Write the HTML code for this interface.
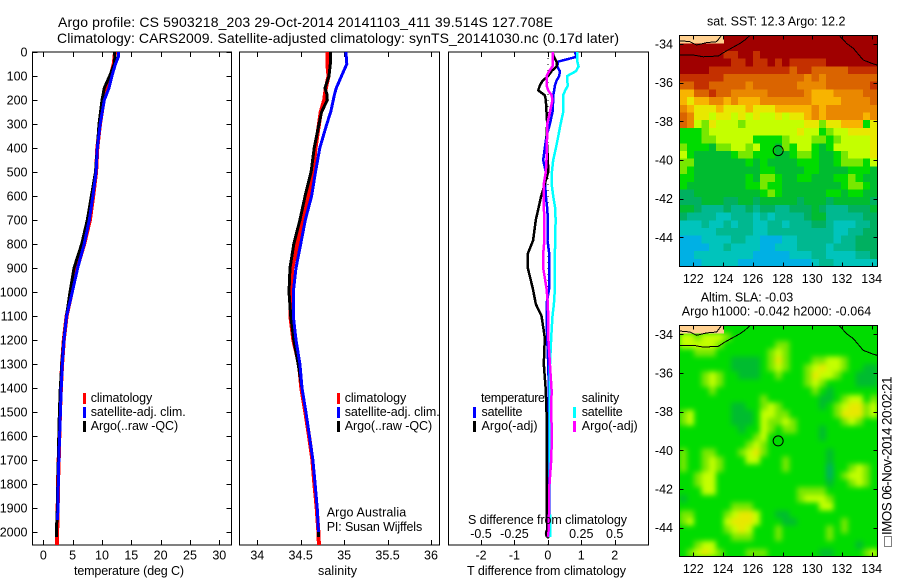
<!DOCTYPE html>
<html lang="en">
<head>
<meta charset="utf-8">
<title>Argo profile</title>
<style>
html,body{margin:0;padding:0;background:#fff;}
svg{display:block;font-family:"Liberation Sans",sans-serif;font-size:12.5px;fill:#000;}
text{fill:#000;}
</style>
</head>
<body>
<svg id="figure" width="900" height="580" viewBox="0 0 900 580" xmlns="http://www.w3.org/2000/svg">
<defs>
<filter id="sla-smooth" x="-10%" y="-10%" width="120%" height="120%" color-interpolation-filters="sRGB"><feGaussianBlur stdDeviation="2.6"/></filter>
<clipPath id="sla-clip"><rect x="679.5" y="325.5" width="198" height="231"/></clipPath>
</defs>
<rect x="0" y="0" width="900" height="580" fill="#fff"/>
<text x="58" y="27" font-size="14" textLength="495">Argo profile: CS 5903218_203 29-Oct-2014 20141103_411 39.514S 127.708E</text>
<text x="57" y="43" font-size="14" textLength="562">Climatology: CARS2009. Satellite-adjusted climatology: synTS_20141030.nc (0.17d later)</text>
<g id="layer-maps"></g>
<g id="layer-profiles"></g>
<g id="layer-labels">
<text x="74" y="575" textLength="110">temperature (deg C)</text>
<text x="318" y="575" textLength="39">salinity</text>
<text x="467" y="575" textLength="159">T difference from climatology</text>
<text x="468" y="524" textLength="159">S difference from climatology</text>
<text x="326.7" y="516.5" textLength="79.5">Argo Australia</text>
<text x="326.7" y="531" textLength="95.5">PI: Susan Wijffels</text>

<rect x="83" y="393" width="3" height="11" fill="#f00"/>
<rect x="83" y="407" width="3" height="11" fill="#00f"/>
<rect x="83" y="421" width="3" height="11" fill="#000"/>
<text x="90.7" y="402" textLength="61.5">climatology</text>
<text x="90.7" y="416" textLength="95">satellite-adj. clim.</text>
<text x="90.7" y="430" textLength="87.5">Argo(..raw -QC)</text>

<rect x="337" y="393" width="3" height="11" fill="#f00"/>
<rect x="337" y="407" width="3" height="11" fill="#00f"/>
<rect x="337" y="421" width="3" height="11" fill="#000"/>
<text x="344.7" y="402" textLength="61.5">climatology</text>
<text x="344.7" y="416" textLength="95">satellite-adj. clim.</text>
<text x="344.7" y="430" textLength="87.5">Argo(..raw -QC)</text>

<text x="481" y="402" textLength="64">temperature</text>
<rect x="473" y="407" width="3" height="11" fill="#00f"/>
<rect x="473" y="421" width="3" height="11" fill="#000"/>
<text x="481.5" y="416" textLength="41">satellite</text>
<text x="481.5" y="430" textLength="56">Argo(-adj)</text>
<text x="581.7" y="402" textLength="37.5">salinity</text>
<rect x="573" y="407" width="3" height="11" fill="#0ff"/>
<rect x="573" y="421" width="3" height="11" fill="#f0f"/>
<text x="581.7" y="416" textLength="41">satellite</text>
<text x="581.7" y="430" textLength="56">Argo(-adj)</text>

<text x="707" y="25.5" textLength="138.5">sat. SST: 12.3 Argo: 12.2</text>
<text x="700.7" y="301.5" textLength="92.5">Altim. SLA: -0.03</text>
<text x="681.7" y="315.5" textLength="189.5">Argo h1000: -0.042 h2000: -0.064</text>
<rect x="884.5" y="536.5" width="7" height="10" fill="none" stroke="#000" stroke-dasharray="1 1"/>
<text transform="translate(891.5,535) rotate(-90)" font-size="13.5" textLength="158.5">IMOS 06-Nov-2014 20:02:21</text>
</g>
</svg>
<script>
// ---- temperature profile (deg C) ----
const tempDepths = [0,20,50,100,150,200,300,400,500,600,700,800,900,1000,1100,1200,1300,1400,1500,1600,1700,1800,1900,1950,2020,2054];
const tempClim = [12.2,12.15,12.0,11.5,10.9,10.3,9.66,9.2,9.0,8.5,7.95,6.98,5.75,4.85,3.98,3.5,3.2,3.0,2.85,2.73,2.62,2.5,2.45,2.4,2.35,2.33];
const tempArgo = [12.1,12.2,12.1,11.3,10.4,10.0,9.5,9.2,8.9,8.2,7.5,6.54,5.23,4.55,3.95,3.5,3.15,2.9,2.75,2.65,2.55,2.47,2.4,2.3,2.25,null];
const tempSat = [12.85,12.8,12.3,11.7,11.2,10.4,9.7,9.2,9.0,8.45,7.84,6.98,5.86,4.94,3.98,3.53,3.24,3.05,2.92,2.78,2.65,2.55,2.48,2.45,null,null];
const tempTicks = [0,5,10,15,20,25,30];

// ---- salinity profile ----
const salDepths = [0,50,100,150,175,200,250,300,400,500,600,700,800,900,1000,1100,1200,1300,1400,1500,1600,1700,1800,1900,2000,2020,2054];
const salClim = [34.806,34.806,34.82,34.79,34.78,34.77,34.73,34.71,34.67,34.645,34.59,34.523,34.46,34.403,34.38,34.38,34.415,34.48,34.507,34.553,34.595,34.634,34.657,34.684,34.703,34.705,34.71];
const salArgo = [34.84,34.84,34.826,34.78,34.80,34.806,34.74,34.71,34.655,34.62,34.55,34.49,34.42,34.377,34.365,34.385,34.42,34.47,34.515,34.56,34.60,34.64,34.665,34.69,34.705,34.705,null];
const salSat = [35.02,35.03,34.97,34.91,34.89,34.875,34.845,34.80,34.72,34.67,34.625,34.553,34.50,34.446,34.415,34.415,34.446,34.49,34.515,34.56,34.60,34.64,34.665,34.69,34.705,null,null];
const salTicks = [34,34.5,35,35.5,36];

// ---- difference profiles ----
const diffDepths = [0,20,40,60,80,100,120,140,160,180,200,250,300,350,400,450,500,550,600,650,700,785,840,900,985,1050,1100,1190,1300,1410,1500,1600,1700,1800,1900,2000,2020];
const tDiffSat = [0.81,0.86,0.31,0.28,0.36,0.34,0.26,0.21,0.19,0.16,0.16,0.14,0.06,-0.04,-0.09,-0.14,-0.06,-0.08,-0.06,-0.02,0,-0.01,0.04,0.04,0.04,-0.04,-0.04,-0.02,0.01,0.03,0.03,0.03,0.03,0.03,0.02,0.02,0.02];
const sDiffSat = [0.22,0.22,0.22,0.23,0.21,0.145,0.145,0.15,0.13,0.115,0.115,0.115,0.095,0.078,0.06,0.04,0.03,0.028,0.04,0.055,0.058,0.055,0.053,0.053,0.053,0.045,0.035,0.025,0.016,0.015,0.015,0.015,0.012,0.012,0.015,0.018,0.018];
const tDiffArgo = [0.14,0.18,0.26,0.26,0.11,0.01,-0.16,-0.24,-0.29,-0.09,-0.06,-0.04,-0.02,-0.04,-0.02,0,0.01,-0.09,-0.2,-0.28,-0.36,-0.44,-0.6,-0.6,-0.45,-0.36,-0.19,-0.09,-0.12,-0.06,-0.04,-0.04,-0.03,-0.03,-0.03,-0.02,-0.02];
const sDiffArgo = [0.035,0.035,0.035,0.035,0.01,-0.01,-0.01,-0.01,0.003,0.028,0.035,0.015,-0.005,-0.005,-0.01,-0.01,-0.015,-0.03,-0.03,-0.03,-0.025,-0.026,-0.035,-0.035,-0.01,0,0.002,0.003,0.015,0.028,0.025,0.03,0.025,0.012,0.01,0.005,0];
const tDiffTicks = [-2,-1,0,1,2];
const sDiffTicks = [-0.5,-0.25,0,0.25,0.5];
const sDiffLabels = ['-0.5','-0.25','0','0.25','0.5'];

// ---- depth axis ----
const depthTicks = [0,100,200,300,400,500,600,700,800,900,1000,1100,1200,1300,1400,1500,1600,1700,1800,1900,2000];

// ---- maps ----
const lonTicks = [122,124,126,128,130,132,134];
const latTicks = [-34,-36,-38,-40,-42,-44];
const profileLon = 127.708;
const profileLat = -39.514;
const coastWest = [[121.06,-34.57],[122,-34.57],[122.67,-34.66],[123.68,-34.62],[124.13,-34.40],[125.14,-33.97],[125.48,-33.79],[125.81,-33.55]];
const coastEast = [[131.82,-33.55],[132.31,-33.97],[132.76,-34.22],[133.43,-34.83],[133.99,-35.0],[134.38,-35.09]];
const coastInner = [[121.06,-33.83],[121.78,-33.88],[122.22,-34.05],[122.9,-33.93],[123.57,-33.88],[123.9,-33.55]];
const levelColors = ['#a00000','#c43000','#da6400','#ea8800','#f8b400','#e8e800','#c4ff00','#78e800','#00dc00','#00bc30','#00b060','#00b890','#00c4bc','#00b0e4','#ffd090'];
const sstLevels = [
[14,14,14,14,14,14,0,0,0,0,0,0,0,0,0,0,0,0,0,0,0,0,0,0,0,0,0],
[0,0,0,0,0,0,0,0,0,0,0,0,0,0,0,0,0,0,0,0,0,0,0,0,0,0,0],
[0,0,0,0,0,0,1,1,0,0,1,0,0,0,0,0,0,0,0,0,0,0,0,0,0,0,0],
[0,0,0,0,0,0,0,1,1,0,1,1,0,1,0,1,1,1,1,1,0,0,0,0,0,0,0],
[0,0,0,0,1,1,1,1,1,1,1,1,1,1,1,2,1,1,2,2,2,2,2,1,1,1,1],
[1,1,1,1,1,1,2,2,2,2,2,2,2,2,2,2,2,3,2,3,2,2,2,2,2,2,2],
[2,2,1,1,2,2,2,2,2,3,2,2,2,2,2,2,3,3,3,3,2,2,2,2,2,2,1],
[4,4,2,2,1,2,2,3,3,3,3,3,2,2,2,2,2,3,4,4,4,3,3,3,3,2,2],
[4,5,4,4,3,3,4,3,4,4,4,3,3,3,3,3,3,3,4,4,4,4,3,3,3,3,2],
[3,4,5,5,5,4,5,5,5,4,5,5,5,4,4,4,4,4,3,4,3,3,3,3,3,3,3],
[2,3,5,5,6,5,5,6,5,6,5,6,6,5,6,5,5,4,3,4,3,3,3,3,3,4,3],
[2,3,6,7,5,6,6,6,7,6,6,6,6,6,6,6,6,5,5,7,5,5,4,4,4,8,5],
[8,8,8,7,6,6,6,6,6,6,6,6,6,6,6,6,5,6,6,8,7,6,6,5,5,5,5],
[8,8,8,7,7,6,6,6,6,6,8,8,8,8,7,6,6,6,7,7,8,7,6,6,6,6,5],
[7,8,8,8,9,7,7,6,6,7,6,8,8,9,7,8,6,6,8,9,8,6,6,6,6,6,5],
[6,8,9,9,9,9,9,8,7,7,8,8,8,9,9,8,7,7,8,9,9,8,7,6,6,6,5],
[7,7,9,9,9,9,9,9,9,8,9,8,9,9,9,9,8,8,8,9,9,8,7,7,7,8,6],
[7,8,9,9,9,9,9,9,9,9,9,8,8,9,9,9,9,8,8,9,9,9,9,8,8,8,9],
[8,8,9,9,9,9,9,9,9,8,9,7,7,8,9,9,8,8,9,9,9,8,8,7,8,9,9],
[8,9,9,9,9,9,9,9,9,8,8,7,8,8,9,9,9,9,9,9,9,9,8,7,7,8,9],
[10,10,9,9,9,9,9,9,9,9,9,8,7,8,9,9,9,9,9,9,8,8,9,8,8,9,9],
[10,10,10,9,9,9,10,10,9,9,10,9,9,9,9,9,10,9,9,9,10,9,9,9,9,9,10],
[9,9,10,11,11,11,10,11,11,10,11,10,10,11,11,10,10,10,9,10,11,11,11,10,10,10,9],
[10,11,11,11,11,12,12,11,11,11,12,11,12,11,11,11,11,10,9,9,11,11,11,11,11,10,10],
[12,12,12,11,12,12,11,12,11,11,12,12,11,11,12,11,11,11,10,10,11,12,12,12,11,11,10],
[12,12,12,12,12,11,11,11,11,11,12,12,11,11,11,11,11,11,11,11,11,12,12,11,11,10,10],
[13,13,13,12,12,12,12,11,11,12,12,13,13,13,12,12,11,11,11,11,11,12,11,11,10,10,10],
[13,13,13,13,12,12,11,12,12,12,12,13,13,12,12,12,11,11,11,11,12,11,11,11,10,10,10],
[13,13,12,12,12,12,12,12,12,12,13,13,13,13,13,12,12,12,11,11,12,12,12,12,11,11,10],
[13,13,13,12,12,12,12,12,13,13,13,13,13,13,13,13,13,13,12,11,11,12,12,12,12,12,12]
];
const slaLevels = [
[14,14,14,14,14,14,8,8,8,8,8,8,8,8,8,8,8,8,8,8,8,8,8,8,8,8,8],
[6,6,7,6,6,6,7,8,8,8,8,8,8,8,8,8,8,8,8,8,8,8,8,8,8,8,8],
[6,6,6,6,6,7,8,8,8,8,8,8,8,7,7,8,8,8,8,8,8,8,8,8,8,8,8],
[8,8,7,7,7,8,8,8,8,8,8,8,7,6,7,8,8,8,8,8,8,8,8,8,8,8,8],
[8,8,8,8,8,8,8,9,9,9,9,8,7,5,7,8,8,8,7,7,6,6,7,8,8,8,8],
[8,8,8,8,8,8,8,9,9,9,9,8,7,6,7,8,8,7,6,5,6,6,7,8,8,9,9],
[8,8,8,7,6,7,8,8,9,9,9,8,8,7,8,8,8,7,5,6,6,7,8,8,9,9,9],
[8,8,8,7,6,7,8,8,8,8,8,8,8,8,8,8,8,7,6,7,8,8,8,8,9,9,9],
[8,8,8,8,7,8,8,8,8,8,8,8,8,8,8,8,8,8,7,8,9,8,8,8,8,8,8],
[8,8,8,8,8,8,8,8,8,8,8,7,8,8,8,8,8,8,8,9,9,8,7,6,6,8,7],
[8,8,8,8,8,8,8,9,9,8,8,7,6,7,8,8,8,8,8,9,8,7,6,5,5,7,6],
[7,6,8,8,8,8,8,9,9,9,8,6,6,7,7,8,8,8,8,8,8,7,5,5,5,7,6],
[7,6,8,8,8,8,8,9,9,9,8,6,7,7,6,7,8,8,8,8,8,8,7,6,7,8,8],
[8,8,8,8,8,8,8,8,9,8,8,6,7,8,7,7,8,8,8,9,8,8,8,8,8,8,8],
[8,8,8,8,8,8,8,8,8,8,7,6,8,8,8,8,8,8,8,9,8,8,8,8,8,8,8],
[8,8,8,8,8,8,8,8,8,7,6,7,8,8,8,8,8,8,8,8,8,8,8,8,8,8,8],
[7,8,8,7,7,8,8,8,7,6,5,7,8,8,8,8,8,8,8,8,9,8,8,8,8,8,8],
[7,8,8,7,6,7,8,8,8,6,6,8,8,8,7,8,8,8,8,8,9,8,8,8,8,8,8],
[7,8,8,7,6,7,8,8,8,8,8,8,8,8,7,8,8,8,8,8,10,8,8,7,6,7,8],
[8,8,7,6,6,8,8,8,8,8,8,8,8,8,8,8,8,8,8,8,10,8,7,6,6,7,8],
[8,8,7,6,6,8,8,8,8,8,8,8,8,8,8,8,8,8,8,8,9,8,8,7,6,7,8],
[8,8,8,6,6,8,8,8,8,8,8,8,8,8,8,8,7,7,7,7,8,8,8,8,8,8,8],
[9,8,8,8,8,8,8,8,8,8,8,8,8,8,8,8,7,6,6,6,7,8,8,8,8,8,8],
[8,8,8,8,8,8,8,7,7,7,8,8,8,8,8,8,8,8,8,6,6,8,8,8,8,8,8],
[7,7,8,8,8,8,7,6,5,5,6,8,8,9,9,8,8,8,8,8,8,8,8,8,8,8,8],
[7,6,8,8,8,8,6,5,5,5,6,8,8,8,9,9,8,8,8,8,8,8,7,8,8,8,8],
[8,8,8,8,8,8,7,6,5,6,8,8,8,7,8,8,8,8,8,8,7,8,7,8,8,8,8],
[8,8,8,8,8,8,8,7,7,7,8,8,8,7,8,8,8,8,8,8,7,8,8,8,8,8,8],
[8,8,7,6,6,8,8,8,8,8,8,8,8,8,8,8,8,8,8,8,8,8,8,8,9,8,8],
[8,7,6,5,6,7,8,8,8,7,7,7,8,8,8,8,8,8,8,9,9,8,8,8,8,7,6]
];

const NS = 'http://www.w3.org/2000/svg';
const profilesLayer = document.getElementById('layer-profiles');
const mapsLayer = document.getElementById('layer-maps');

function make(tag, attrs, parent) {
  const el = document.createElementNS(NS, tag);
  for (const k in attrs) el.setAttribute(k, attrs[k]);
  parent.appendChild(el);
  return el;
}
function label(str, x, y, anchor, parent, name) {
  const t = make('text', {x: x, y: y, 'text-anchor': anchor}, parent);
  t.textContent = str;
  
  
  return t;
}
function tick(x1, y1, x2, y2, parent) {
  const l = make('line', {x1: x1, y1: y1, x2: x2, y2: y2, stroke: '#000', 'stroke-width': 1, 'shape-rendering': 'crispEdges'}, parent);
  
  
  return l;
}
function linear(d0, d1, r0, r1) {
  return v => r0 + (v - d0) * (r1 - r0) / (d1 - d0);
}

const PANEL_TOP = 52, PANEL_BOTTOM = 545;
const yDepth = linear(0, 2000, 52, 532);
const xTemp = linear(0, 30, 43.3, 219.3);
const xSal = linear(34, 36, 257.3, 431);
const xTDiff = linear(-2, 2, 481, 614.7);
const xSDiff = linear(-0.5, 0.5, 481, 614.7);

function drawSeries(depths, values, xFn, color, width, name, parent) {
  const pts = [];
  depths.forEach((d, i) => {
    if (values[i] !== null) pts.push(xFn(values[i]).toFixed(1) + ',' + yDepth(d).toFixed(1));
  });
  const line = make('polyline', {points: pts.join(' '), fill: 'none', stroke: color, 'stroke-width': width, 'shape-rendering': 'crispEdges', 'stroke-linejoin': 'round'}, parent);
  
  
}
function drawFrame(x0, x1, parent, name) {
  const r = make('rect', {x: x0, y: PANEL_TOP, width: x1 - x0, height: PANEL_BOTTOM - PANEL_TOP, fill: '#fff', stroke: '#000', 'stroke-width': 1, 'shape-rendering': 'crispEdges'}, parent);
  
  
}
function drawXTicks(ticks, xFn, parent) {
  ticks.forEach(v => {
    const x = Math.round(xFn(v)) + 0.5;
    tick(x, PANEL_TOP, x, PANEL_TOP + 5, parent);
    tick(x, PANEL_BOTTOM, x, PANEL_BOTTOM - 5, parent);
  });
}

// Temperature panel
const pTemp = make('g', {}, profilesLayer);


drawFrame(32.5, 231.5, pTemp, 'temperature-plot-frame');
depthTicks.forEach(d => {
  const y = Math.round(yDepth(d)) + 0.5;
  tick(32.5, y, 37.5, y, pTemp);
  tick(226.5, y, 231.5, y, pTemp);
  label(String(d), 27.5, yDepth(d) + 4.5, 'end', pTemp, 'depth-tick-label');
});
drawXTicks(tempTicks, xTemp, pTemp);
tempTicks.forEach(v => label(String(v), xTemp(v), 559.5, 'middle', pTemp, 'temperature-tick-label'));
drawSeries(tempDepths, tempClim, xTemp, '#f00', 4, 'temperature-climatology-line', pTemp);
drawSeries(tempDepths, tempArgo, xTemp, '#000', 3, 'temperature-argo-line', pTemp);
drawSeries(tempDepths, tempSat, xTemp, '#00f', 3, 'temperature-satellite-line', pTemp);

// Salinity panel
const pSal = make('g', {}, profilesLayer);


drawFrame(239.5, 439.5, pSal, 'salinity-plot-frame');
drawXTicks(salTicks, xSal, pSal);
salTicks.forEach(v => label(String(v), xSal(v), 559.5, 'middle', pSal, 'salinity-tick-label'));
drawSeries(salDepths, salClim, xSal, '#f00', 4, 'salinity-climatology-line', pSal);
drawSeries(salDepths, salArgo, xSal, '#000', 3, 'salinity-argo-line', pSal);
drawSeries(salDepths, salSat, xSal, '#00f', 3, 'salinity-satellite-line', pSal);

// Difference panel
const pDiff = make('g', {}, profilesLayer);


drawFrame(448.5, 648.5, pDiff, 'difference-plot-frame');
drawXTicks(tDiffTicks, xTDiff, pDiff);
tDiffTicks.forEach(v => label(String(v), xTDiff(v), 559.5, 'middle', pDiff, 't-difference-tick-label'));
sDiffTicks.forEach((v, i) => label(sDiffLabels[i], xSDiff(v), 538, 'middle', pDiff, 's-difference-tick-label'));
const zeroLine = make('line', {x1: xTDiff(0), y1: 52, x2: xTDiff(0), y2: 545, stroke: '#000', 'stroke-width': 1, 'stroke-dasharray': '1 5', 'shape-rendering': 'crispEdges'}, pDiff);


drawSeries(diffDepths, tDiffSat, xTDiff, '#00f', 2.5, 'temperature-satellite-difference-line', pDiff);
drawSeries(diffDepths, sDiffSat, xSDiff, '#0ff', 2.5, 'salinity-satellite-difference-line', pDiff);
drawSeries(diffDepths, tDiffArgo, xTDiff, '#000', 2.5, 'temperature-argo-difference-line', pDiff);
drawSeries(diffDepths, sDiffArgo, xSDiff, '#f0f', 2.5, 'salinity-argo-difference-line', pDiff);

// Maps
const MAP_X0 = 679.5, MAP_X1 = 877.5;
const LAND_LEVEL = 14;
const xLon = linear(122, 134, 693.3, 871.7);
function drawMap(levels, top, bottom, lat34, lonLabelY, name, smooth) {
  const g = make('g', {}, mapsLayer);
  
  
  const yLat = linear(-34, -44, lat34, lat34 + 193.3);
  const rows = levels.length, cols = levels[0].length;
  const cw = (MAP_X1 - MAP_X0) / cols, ch = (bottom - top) / rows;
  const base = make('rect', {x: MAP_X0, y: top, width: MAP_X1 - MAP_X0, height: bottom - top, fill: levelColors[8], 'shape-rendering': 'crispEdges'}, g);
  
  
  const clip = make('g', {}, g);
  
  
  const field = make('g', {}, clip);
  
  
  const land = make('g', {}, g);
  
  
  if (smooth) {
    clip.setAttribute('clip-path', 'url(#sla-clip)');
    field.setAttribute('filter', 'url(#sla-smooth)');
  }
  levels.forEach((row, r) => {
    row.forEach((v, c) => {
      const cell = make('rect', {x: (MAP_X0 + c * cw).toFixed(2), y: (top + r * ch).toFixed(2), width: (cw + 0.4).toFixed(2), height: (ch + 0.4).toFixed(2), fill: levelColors[v], 'shape-rendering': 'crispEdges'}, v === LAND_LEVEL ? land : field);
      
      
    });
  });
  [coastWest, coastEast, coastInner].forEach(coast => {
    const pts = coast.map(p => {
      const x = Math.min(MAP_X1, Math.max(MAP_X0, xLon(p[0])));
      const y = Math.max(top, yLat(p[1]));
      return x.toFixed(1) + ',' + y.toFixed(1);
    }).join(' ');
    const line = make('polyline', {points: pts, fill: 'none', stroke: '#000', 'stroke-width': 1, 'shape-rendering': 'crispEdges'}, g);
    
    
  });
  const frame = make('rect', {x: MAP_X0, y: top, width: MAP_X1 - MAP_X0, height: bottom - top, fill: 'none', stroke: '#000', 'stroke-width': 1, 'shape-rendering': 'crispEdges'}, g);
  
  
  lonTicks.forEach(v => {
    const x = Math.round(xLon(v)) + 0.5;
    tick(x, top, x, top + 4, g);
    tick(x, bottom, x, bottom - 4, g);
    label(String(v), xLon(v), lonLabelY, 'middle', g, 'longitude-tick-label');
  });
  latTicks.forEach(v => {
    const y = Math.round(yLat(v)) + 0.5;
    tick(MAP_X0, y, MAP_X0 + 4, y, g);
    tick(MAP_X1, y, MAP_X1 - 4, y, g);
    label(String(v), 673, yLat(v) + 4.5, 'end', g, 'latitude-tick-label');
  });
  const marker = make('circle', {cx: xLon(profileLon), cy: yLat(profileLat), r: 5, fill: 'none', stroke: '#000', 'stroke-width': 1}, g);
  
  
}
drawMap(sstLevels, 35.5, 266.5, 44, 283, 'sst-map', false);
drawMap(slaLevels, 325.5, 556.5, 334.3, 573, 'sla-map', true);
</script>
</body>
</html>
